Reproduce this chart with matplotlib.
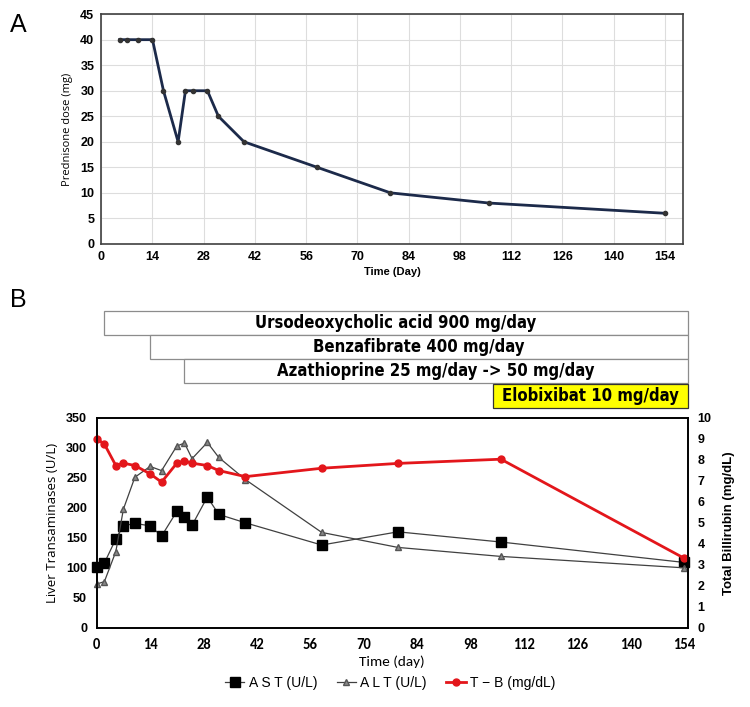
import matplotlib
matplotlib.use("Agg")
import matplotlib.pyplot as plt
import matplotlib.transforms as mtransforms
from matplotlib.patches import Rectangle

# Panel A: prednisone dose
pred_day = [5, 7, 10, 14, 17, 21, 23, 25, 29, 32, 39, 59, 79, 106, 154]
pred_dose = [40, 40, 40, 40, 30, 20, 30, 30, 30, 25, 20, 15, 10, 8, 6]

# Panel B: liver tests
lab_day = [0, 2, 5, 7, 10, 14, 17, 21, 23, 25, 29, 32, 39, 59, 79, 106, 154]
ast = [101, 108, 148, 170, 174, 170, 153, 194, 185, 171, 218, 189, 175, 138, 160, 143, 109]
alt = [73, 77, 127, 198, 251, 269, 262, 303, 308, 282, 309, 284, 247, 159, 134, 119, 100]
tbil = [9.0, 8.75, 7.73, 7.84, 7.73, 7.33, 6.94, 7.84, 7.95, 7.84, 7.73, 7.49, 7.2, 7.6, 7.83, 8.03, 3.32]

# treatments (start day, label)
drug_names = ["Ursodeoxycholic acid 900 mg/day", "Benzafibrate 400 mg/day",
              "Azathioprine 25 mg/day -> 50 mg/day", "Elobixibat 10 mg/day"]
drug_start = [2, 14, 23, 104]
drug_end = 155

arial = ["Liberation Sans", "DejaVu Sans"]
calibri = ["Carlito", "DejaVu Sans"]
segoe = ["Open Sans", "DejaVu Sans"]

fig = plt.figure(figsize=(7.5, 7.07), dpi=100)

# ---------- panel A ----------
axA = fig.add_axes([0.135, 0.655, 0.776, 0.325])
axA.plot(pred_day, pred_dose, color="#1c2a4a", lw=2, marker="o", ms=3,
         mfc="#333333", mec="#333333")
axA.set_xlim(0, 159)
axA.set_ylim(0, 45)
axA.set_xticks(range(0, 155, 14))
axA.set_yticks(range(0, 46, 5))
axA.grid(True, color="#dddddd", lw=0.8)
axA.set_axisbelow(True)
for s in axA.spines.values():
    s.set_color("#404040")
    s.set_linewidth(1.2)
axA.tick_params(length=0, labelsize=9, pad=5)
for lab in axA.get_xticklabels() + axA.get_yticklabels():
    lab.set_fontweight("bold")
    lab.set_family(arial)
axA.set_xlabel("Time (Day)", fontsize=8, fontweight="bold", family=arial, labelpad=3)
axA.set_ylabel("Prednisone dose (mg)", fontsize=8, family=segoe, labelpad=5)
fig.text(0.013, 0.965, "A", fontsize=18, family=arial, va="center")

# ---------- panel B ----------
axB = fig.add_axes([0.129, 0.112, 0.788, 0.297])
axB.plot(lab_day, ast, color="#404040", lw=0.9, marker="s", ms=7,
         mfc="black", mec="black", label="A S T (U/L)", clip_on=False, zorder=3)
axB.plot(lab_day, alt, color="#404040", lw=0.9, marker="^", ms=5,
         mfc="#888888", mec="#555555", label="A L T (U/L)", clip_on=False, zorder=3)
axB.set_xlim(0, 155)
axB.set_ylim(0, 350)
axB.set_xticks(range(0, 155, 14))
axB.set_yticks(range(0, 351, 50))
axB.set_ylabel("Liver Transaminases (U/L)", fontsize=9.5, family=segoe, labelpad=5)
axB.set_xlabel("Time (day)", fontsize=11, family=calibri, labelpad=3)

axR = axB.twinx()
axR.plot(lab_day, tbil, color="#e3161b", lw=2, marker="o", ms=5,
         label="T \u2212 B (mg/dL)", clip_on=False)
axR.set_ylim(0, 10)
axR.set_yticks(range(0, 11))
axR.set_ylabel("Total Billirubin (mg/dL)", fontsize=9.5, fontweight="bold",
               family=arial, labelpad=8)

for ax in (axB, axR):
    for s in ax.spines.values():
        s.set_color("black")
        s.set_linewidth(1.2)
    ax.tick_params(length=0, pad=7)
for lab in axB.get_xticklabels():
    lab.set_family(calibri)
    lab.set_fontweight("bold")
    lab.set_fontsize(10.5)
for lab in axB.get_yticklabels() + axR.get_yticklabels():
    lab.set_family(arial)
    lab.set_fontweight("bold")
    lab.set_fontsize(9)

# treatment bars above panel B
trans = mtransforms.blended_transform_factory(axB.transData, axB.transAxes)
row_h = 0.115
for i, (name, start) in enumerate(zip(drug_names, drug_start)):
    y0 = 1.395 - i * row_h - (0.005 if i == 3 else 0)
    last = i == len(drug_names) - 1
    rect = Rectangle((start, y0), drug_end - start, row_h, transform=trans,
                     clip_on=False, facecolor="#ffff00" if last else "white",
                     edgecolor="#333333" if last else "#8c8c8c", lw=0.9)
    axB.add_patch(rect)
    axB.text((start + drug_end) / 2, y0 + row_h / 2, name, transform=trans,
             ha="center", va="center", fontsize=12, fontweight="bold",
             family="DejaVu Sans", fontstretch="condensed")

fig.text(0.013, 0.575, "B", fontsize=18, family=arial, va="center")

h1, l1 = axB.get_legend_handles_labels()
h2, l2 = axR.get_legend_handles_labels()
fig.legend(h1 + h2, l1 + l2, loc="center", bbox_to_anchor=(0.52, 0.034), ncol=3,
           frameon=False, prop={"family": arial, "size": 10},
           handlelength=1.4, handletextpad=0.3, columnspacing=1.4)

fig.savefig("out.png", dpi=100)
